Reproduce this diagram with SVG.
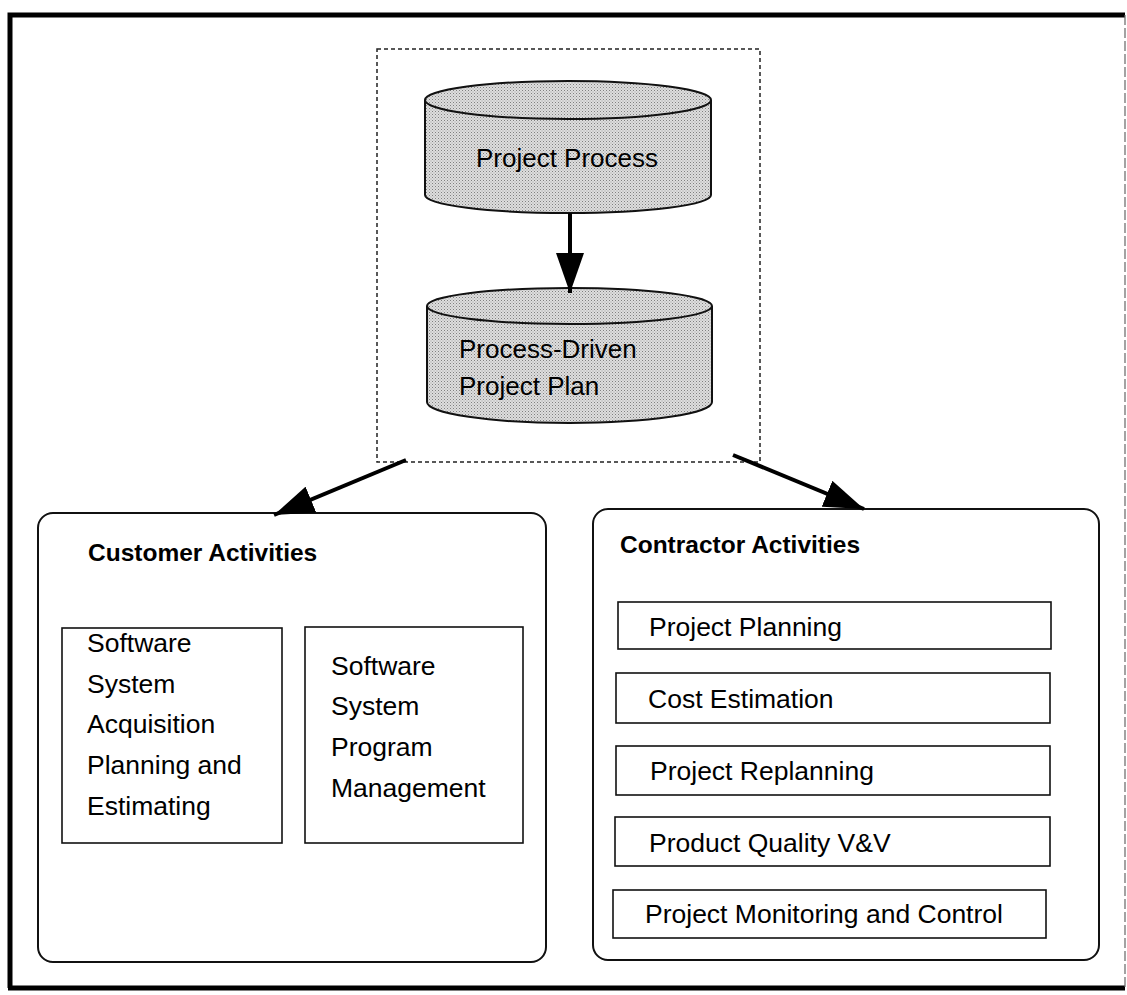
<svg xmlns="http://www.w3.org/2000/svg" width="1127" height="995" viewBox="0 0 1127 995">
<defs>
<pattern id="dots" width="3" height="3" patternUnits="userSpaceOnUse">
<rect width="3" height="3" fill="#dedede"/>
<rect width="1" height="1" fill="#808080"/>
<rect x="1.5" y="1.5" width="1" height="1" fill="#a0a0a0"/>
</pattern>
<marker id="ah" markerUnits="userSpaceOnUse" markerWidth="44" markerHeight="28" refX="40" refY="14" orient="auto">
<path d="M0,0 L40,14 L0,28 Z" fill="#000"/>
</marker>
</defs>
<style>
.t{font-family:"Liberation Sans",Arial,sans-serif;font-size:26.5px;fill:#000}
.c{font-family:"Liberation Sans",Arial,sans-serif;font-size:26px;fill:#000}
.h{font-family:"Liberation Sans",Arial,sans-serif;font-size:24.5px;font-weight:bold;fill:#000}
.box{fill:#fff;stroke:#111;stroke-width:1.6}
.grp{fill:#fff;stroke:#111;stroke-width:2}
.cyl{fill:url(#dots);stroke:#111;stroke-width:2}
.con{stroke:#000;stroke-width:4;fill:none}
</style>
<rect width="1127" height="995" fill="#fff"/>
<g id="frame">
<path d="M10,988 L10,15 L1125,15" fill="none" stroke="#000" stroke-width="5"/>
<line x1="8" y1="988" x2="1125" y2="988" stroke="#000" stroke-width="5"/>
<line x1="1125" y1="15" x2="1125" y2="988" stroke="#666" stroke-width="1.2" stroke-dasharray="10 3"/>
</g>
<g id="plan-container">
<rect x="377" y="49" width="383" height="413" fill="none" stroke="#222" stroke-width="1.5" stroke-dasharray="4 3"/>
</g>
<g id="project-process">
<path class="cyl" d="M425,100 L425,195 A143,18 0 0 0 711,195 L711,100 A143,19 0 0 0 425,100 Z"/>
<path d="M425,100 A143,19 0 0 0 711,100" fill="none" stroke="#111" stroke-width="2"/>
<text class="c" x="567" y="167" text-anchor="middle">Project Process</text>
</g>
<g id="process-driven-plan">
<path class="cyl" d="M427,306 L427,402 A142.5,21 0 0 0 712,402 L712,306 A142.5,18 0 0 0 427,306 Z"/>
<path d="M427,306 A142.5,18 0 0 0 712,306" fill="none" stroke="#111" stroke-width="2"/>
<text class="c" x="459" y="358">Process-Driven</text>
<text class="c" x="459" y="395">Project Plan</text>
</g>
<g id="customer">
<rect class="grp" x="38" y="513" width="508" height="449" rx="15"/>
<text class="h" x="88" y="561">Customer Activities</text>
<g id="acq">
<rect class="box" x="62" y="628" width="220" height="215"/>
<text class="t" x="87" y="652">Software</text>
<text class="t" x="87" y="693">System</text>
<text class="t" x="87" y="733">Acquisition</text>
<text class="t" x="87" y="774">Planning and</text>
<text class="t" x="87" y="815">Estimating</text>
</g>
<g id="pm">
<rect class="box" x="305" y="627" width="218" height="216"/>
<text class="t" x="331" y="675">Software</text>
<text class="t" x="331" y="715">System</text>
<text class="t" x="331" y="756">Program</text>
<text class="t" x="331" y="797">Management</text>
</g>
</g>
<g id="contractor">
<rect class="grp" x="593" y="509" width="506" height="451" rx="15"/>
<text class="h" x="620" y="553">Contractor Activities</text>
<g id="pp"><rect class="box" x="618" y="602" width="433" height="47"/><text class="t" x="649" y="636">Project Planning</text></g>
<g id="ce"><rect class="box" x="616" y="673" width="434" height="50"/><text class="t" x="648" y="708">Cost Estimation</text></g>
<g id="pr"><rect class="box" x="616" y="746" width="434" height="49"/><text class="t" x="650" y="780">Project Replanning</text></g>
<g id="pq"><rect class="box" x="615" y="817" width="435" height="49"/><text class="t" x="649" y="852">Product Quality V&amp;V</text></g>
<g id="pmc"><rect class="box" x="613" y="890" width="433" height="48"/><text class="t" x="645" y="923">Project Monitoring and Control</text></g>
</g>
<g id="connectors">
<line class="con" x1="570" y1="213" x2="570" y2="293" marker-end="url(#ah)"/>
<line class="con" x1="406" y1="460" x2="274" y2="515" marker-end="url(#ah)"/>
<line class="con" x1="733" y1="455" x2="864" y2="509" marker-end="url(#ah)"/>
</g>
</svg>
